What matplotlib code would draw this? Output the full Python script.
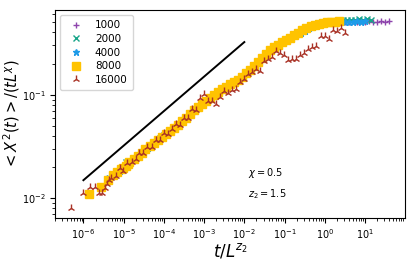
import numpy as np
import matplotlib
matplotlib.use("Agg")
import matplotlib.pyplot as plt

# simulation times (same grid for every system size)
times = [1, 2, 3, 4, 5, 6, 7, 8, 9, 10,
         13, 16, 20, 25, 32, 40, 50, 63, 79, 100,
         126, 158, 200, 251, 316, 398, 501, 631, 794, 1000,
         1259, 1585, 1995, 2512, 3162, 3981, 5012, 6310, 7943, 10000,
         12589, 15849, 19953, 25119, 31623, 39811, 50119, 63096, 79433, 100000,
         125893, 158489, 199526, 251189, 316228, 398107, 501187, 630957, 794328, 1000000,
         1258925, 1584893, 1995262, 2511886, 3162278, 3981072, 5011872, 6309573]

sizes = [1000, 2000, 4000, 8000, 16000]
z2 = 1.5
chi = 0.5

y_1000 = [0.031, 0.0355, 0.040, 0.0437, 0.0468, 0.0494, 0.0515, 0.0537, 0.056, 0.0582,
          0.0631, 0.0684, 0.0741, 0.0794, 0.0851, 0.0912, 0.0977, 0.1035, 0.110, 0.116,
          0.123, 0.129, 0.135, 0.145, 0.155, 0.168, 0.182, 0.197, 0.214, 0.234,
          0.257, 0.272, 0.288, 0.305, 0.324, 0.339, 0.355, 0.376, 0.398, 0.417,
          0.437, 0.452, 0.468, 0.479, 0.484, 0.490, 0.495, 0.501, 0.501, 0.507,
          0.507, 0.513, 0.510, 0.513, 0.510, 0.513, 0.510, 0.508, 0.512, 0.510, 0.512]

y_2000 = [0.0225, 0.026, 0.0295, 0.032, 0.0343, 0.0362, 0.0379, 0.0393, 0.0407, 0.0422,
          0.0452, 0.0484, 0.0519, 0.0559, 0.0606, 0.0657, 0.0712, 0.0767, 0.0822, 0.0881,
          0.0944, 0.1006, 0.107, 0.113, 0.119, 0.126, 0.132, 0.140, 0.150, 0.161,
          0.175, 0.190, 0.213, 0.233, 0.255, 0.275, 0.291, 0.308, 0.327, 0.344,
          0.361, 0.380, 0.402, 0.423, 0.444, 0.462, 0.478, 0.492, 0.500, 0.507,
          0.512, 0.518, 0.521, 0.524, 0.527, 0.530, 0.532, 0.535, 0.531, 0.534, 0.532]

y_4000 = [0.0158, 0.0186, 0.0213, 0.0234, 0.0251, 0.0265, 0.0277, 0.0288, 0.0298, 0.0309,
          0.0331, 0.0355, 0.0380, 0.0407, 0.0437, 0.0468, 0.0501, 0.0537, 0.0582, 0.0631,
          0.0684, 0.0741, 0.0794, 0.0851, 0.0912, 0.0977, 0.1035, 0.110, 0.116, 0.123,
          0.129, 0.135, 0.145, 0.155, 0.168, 0.182, 0.197, 0.214, 0.234, 0.257,
          0.272, 0.288, 0.305, 0.324, 0.339, 0.355, 0.376, 0.398, 0.417, 0.437,
          0.452, 0.468, 0.479, 0.484, 0.490, 0.495, 0.501, 0.501, 0.505, 0.507,
          0.510, 0.512, 0.510, 0.512]

y_8000 = [0.0110, 0.0129, 0.0150, 0.0167, 0.0179, 0.0193, 0.0198, 0.0207, 0.0216, 0.0224,
          0.0241, 0.0259, 0.0277, 0.0297, 0.0318, 0.0341, 0.0366, 0.0392, 0.0420, 0.0451,
          0.0483, 0.0517, 0.0557, 0.0603, 0.0654, 0.0709, 0.0765, 0.0820, 0.0878, 0.0941,
          0.1003, 0.1067, 0.113, 0.119, 0.126, 0.132, 0.139, 0.149, 0.161, 0.174,
          0.189, 0.208, 0.228, 0.250, 0.271, 0.288, 0.305, 0.323, 0.341, 0.357,
          0.376, 0.397, 0.418, 0.438, 0.457, 0.474, 0.487, 0.495, 0.501, 0.505,
          0.510, 0.512]

y_16000 = [0.0080, 0.0112, 0.0129, 0.0129, 0.0112, 0.0113, 0.0126, 0.0138, 0.0150, 0.0158,
           0.0166, 0.0195, 0.0186, 0.0219, 0.0224, 0.0240, 0.0275, 0.0275, 0.0316, 0.0316,
           0.0363, 0.0363, 0.0427, 0.0417, 0.0468, 0.0525, 0.0513, 0.0603, 0.0603, 0.0724,
           0.0708, 0.0933, 0.102, 0.087, 0.087, 0.0813, 0.0955, 0.110, 0.105, 0.112,
           0.115, 0.132, 0.141, 0.158, 0.166, 0.178, 0.170, 0.214, 0.224, 0.234,
           0.263, 0.251, 0.245, 0.219, 0.224, 0.224, 0.240, 0.251, 0.275, 0.288,
           0.295, 0.372, 0.372, 0.347, 0.427, 0.417, 0.437, 0.398]

series = [y_1000, y_2000, y_4000, y_8000, y_16000]
markers = ['+', 'x', '*', 's', '2']
colors = ['#8e44ad', '#17a589', '#1e9be8', '#ffc300', '#a93226']
msizes = [5, 5, 5, 5.3, 6]

# guide line with slope 1/3
line_x = [1e-6, 1e-2]
line_y = [0.015, 0.323]

fig = plt.figure(figsize=(4.15, 2.61), dpi=100)
ax = fig.add_axes([0.133, 0.165, 0.843, 0.797])

for L, y, m, c, ms in zip(sizes, series, markers, colors, msizes):
    t = np.array(times[:len(y)], dtype=float)
    ax.plot(t / L**z2, y, linestyle='none', marker=m, color=c,
            markersize=ms, label=str(L))

ax.plot(line_x, line_y, color='black', linewidth=1.4)

ax.set_xscale('log')
ax.set_yscale('log')
ax.set_xticks([1e-6, 1e-5, 1e-4, 1e-3, 1e-2, 1e-1, 1e0, 1e1])
ax.tick_params(labelsize=7)

ax.text(0.552, 0.216, r'$\chi=0.5$', transform=ax.transAxes, fontsize=7, va='center')
ax.text(0.552, 0.115, r'$z_2=1.5$', transform=ax.transAxes, fontsize=7, va='center')

ax.set_xlabel(r'$t/L^{z_2}$', fontsize=12, labelpad=0)
ax.set_ylabel(r'$<X^2(t)>/(tL^{\chi})$', fontsize=10.5, va='center')
ax.yaxis.set_label_coords(-0.125, 0.5)
ax.legend(loc='upper left', fontsize=7.5, handletextpad=0.8, borderpad=0.5,
          labelspacing=0.35)

fig.savefig('out.png', dpi=100)
